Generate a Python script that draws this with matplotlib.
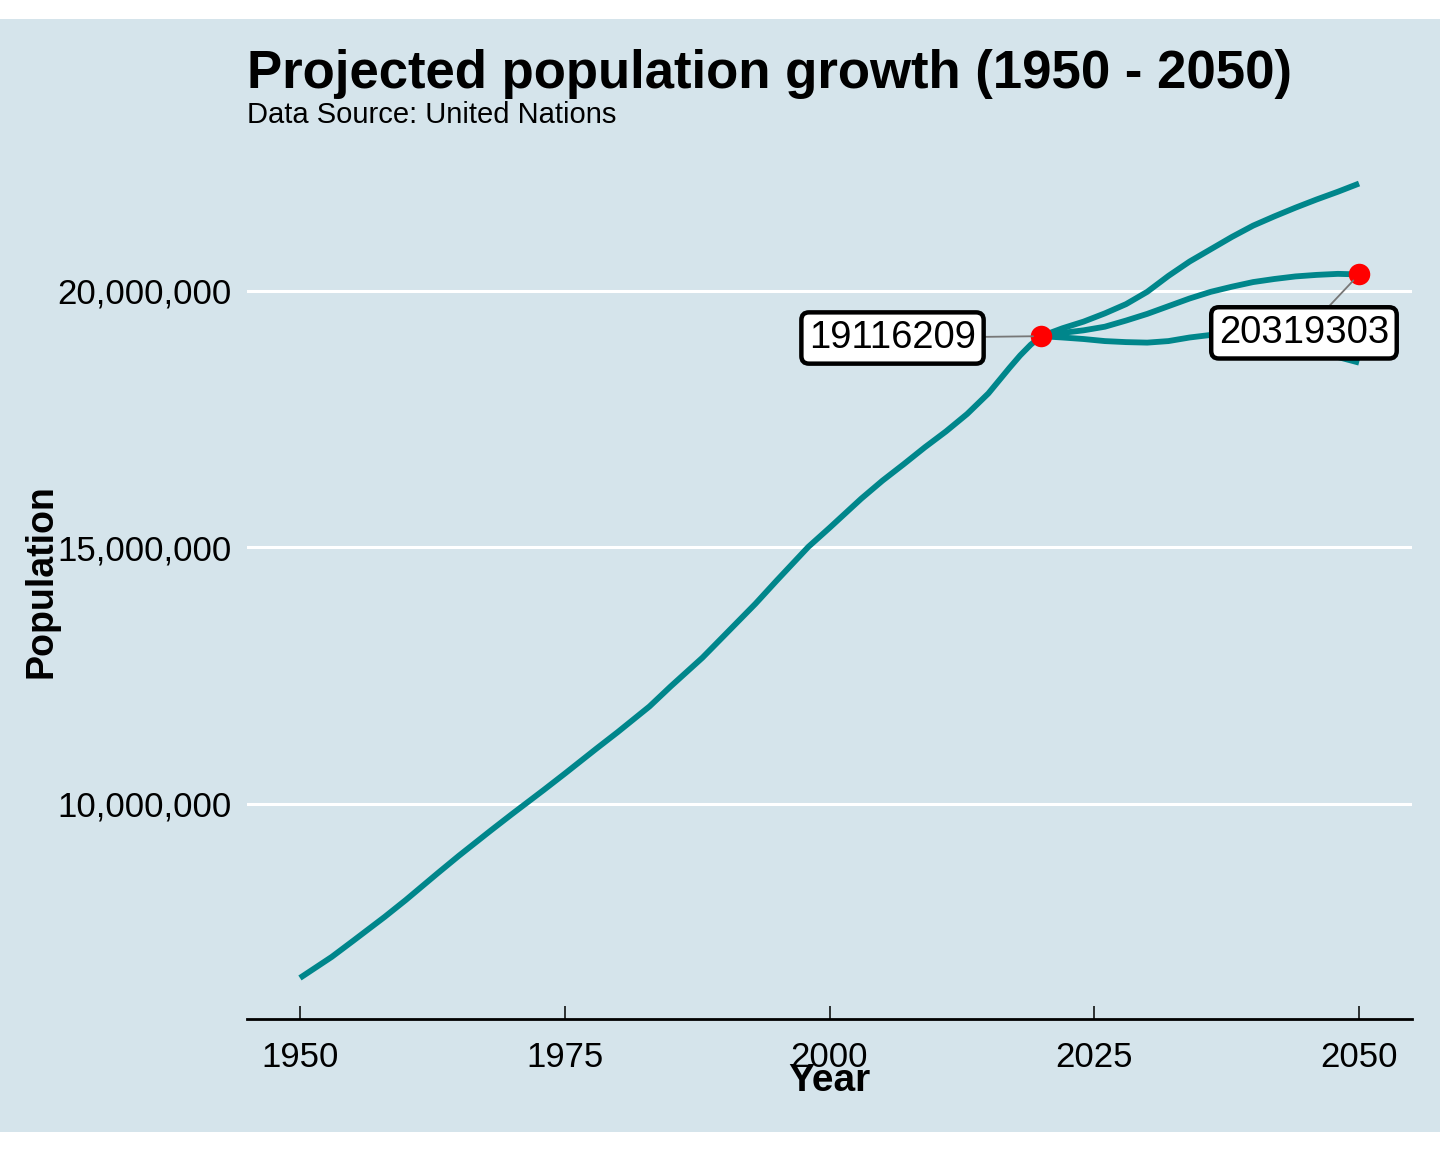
import matplotlib
matplotlib.use("Agg")
import matplotlib.pyplot as plt
from matplotlib.patches import Rectangle
from matplotlib.ticker import FuncFormatter

plt.rcParams['font.family'] = ['Liberation Sans', 'DejaVu Sans']

# ---- data (population in persons) ----
hist_years = [1950, 1953, 1955, 1958, 1960, 1963, 1965, 1968, 1970, 1973, 1975,
              1978, 1980, 1983, 1985, 1988, 1990, 1993, 1995, 1998, 2000, 2003,
              2005, 2007, 2009, 2011, 2013, 2015, 2016, 2017, 2018, 2019, 2020]
hist_pop = [6.61e6, 7.02e6, 7.33e6, 7.80e6, 8.13e6, 8.65e6, 8.99e6, 9.48e6, 9.80e6,
            10.27e6, 10.59e6, 11.08e6, 11.40e6, 11.90e6, 12.29e6, 12.85e6, 13.27e6,
            13.90e6, 14.35e6, 15.01e6, 15.38e6, 15.95e6, 16.30e6, 16.62e6, 16.95e6,
            17.26e6, 17.60e6, 18.00e6, 18.25e6, 18.50e6, 18.74e6, 18.95e6, 19116209]

proj_years = [2020, 2022, 2024, 2026, 2028, 2030, 2032, 2034, 2036, 2038, 2040,
              2042, 2044, 2046, 2048, 2050]
proj_upper = [19116209, 19.27e6, 19.40e6, 19.56e6, 19.74e6, 19.98e6, 20.29e6,
              20.57e6, 20.81e6, 21.05e6, 21.27e6, 21.45e6, 21.62e6, 21.78e6,
              21.93e6, 22.09e6]
proj_median = [19116209, 19.18e6, 19.23e6, 19.30e6, 19.42e6, 19.55e6, 19.70e6,
               19.85e6, 19.98e6, 20.08e6, 20.17e6, 20.23e6, 20.28e6, 20.31e6,
               20.33e6, 20319303]
proj_lower = [19116209, 19.09e6, 19.06e6, 19.02e6, 19.00e6, 18.99e6, 19.02e6,
              19.09e6, 19.14e6, 19.16e6, 19.15e6, 19.10e6, 19.00e6, 18.85e6,
              18.71e6, 18.60e6]

highlight_years = [2020, 2050]
highlight_pop = [19116209, 20319303]

x_ticks = [1950, 1975, 2000, 2025, 2050]
y_ticks = [10e6, 15e6, 20e6]

BG = "#d5e4eb"
LINE = "#00868B"

fig = plt.figure(figsize=(14.4, 11.52), dpi=100, facecolor="white")
fig.patches.append(Rectangle((0, 1 - 1132 / 1152), 1, (1132 - 19) / 1152,
                             transform=fig.transFigure, facecolor=BG,
                             edgecolor="none", zorder=-10))

ax = fig.add_axes([247 / 1440, 1 - 1019 / 1152, (1412 - 247) / 1440, (1019 - 143) / 1152])
ax.set_facecolor(BG)

ax.plot(hist_years, hist_pop, color=LINE, lw=4.2, solid_capstyle="butt",
        solid_joinstyle="round", zorder=3)
for series in (proj_upper, proj_median, proj_lower):
    ax.plot(proj_years, series, color=LINE, lw=4.2, solid_capstyle="butt",
            solid_joinstyle="round", zorder=3)

ax.scatter(highlight_years, highlight_pop, s=240, color="red", zorder=5, linewidths=0)

label_pos = [(2005.95, 19.08e6), (2044.8, 19.18e6)]
for (yr, val), (lx, ly) in zip(zip(highlight_years, highlight_pop), label_pos):
    ax.annotate(str(val), xy=(yr, val), xytext=(lx, ly), textcoords="data",
                fontsize=27.5, ha="center", va="center", zorder=6,
                bbox=dict(boxstyle="round,pad=0.2,rounding_size=0.2",
                          fc="white", ec="black", lw=3.2),
                arrowprops=dict(arrowstyle="-", color="#777777", lw=1.3,
                                shrinkA=0, shrinkB=6))

ax.set_xlim(1945, 2055)
ax.set_ylim(5.81e6, 22.88e6)
ax.set_xticks(x_ticks)
ax.set_yticks(y_ticks)
ax.yaxis.set_major_formatter(FuncFormatter(lambda v, p: f"{int(v):,}"))

for s in ("top", "right", "left"):
    ax.spines[s].set_visible(False)
ax.spines["bottom"].set_linewidth(2.0)
ax.spines["bottom"].set_color("black")

ax.grid(axis="y", color="white", lw=2.2)
ax.set_axisbelow(True)
ax.tick_params(axis="x", direction="in", length=9.5, width=1.1, pad=16,
               labelsize=25, colors="black")
ax.tick_params(axis="y", length=0, pad=11, labelsize=25, colors="black")

ax.set_xlabel("Year", fontsize=28, fontweight="bold")
ax.xaxis.set_label_coords(0.5, -0.0705)
ax.xaxis.label.set_va("center")
ax.set_ylabel("Population", fontsize=27, fontweight="bold")
ax.yaxis.set_label_coords(-0.176, 0.5)
ax.yaxis.label.set_va("center")

fig.text(247 / 1440, 1 - 88 / 1152, "Projected population growth (1950 - 2050)",
         fontsize=38, fontweight="bold", ha="left", va="baseline")
fig.text(247 / 1440, 1 - 123 / 1152, "Data Source: United Nations",
         fontsize=21, ha="left", va="baseline")

fig.savefig("out.png", dpi=100, facecolor="white")
